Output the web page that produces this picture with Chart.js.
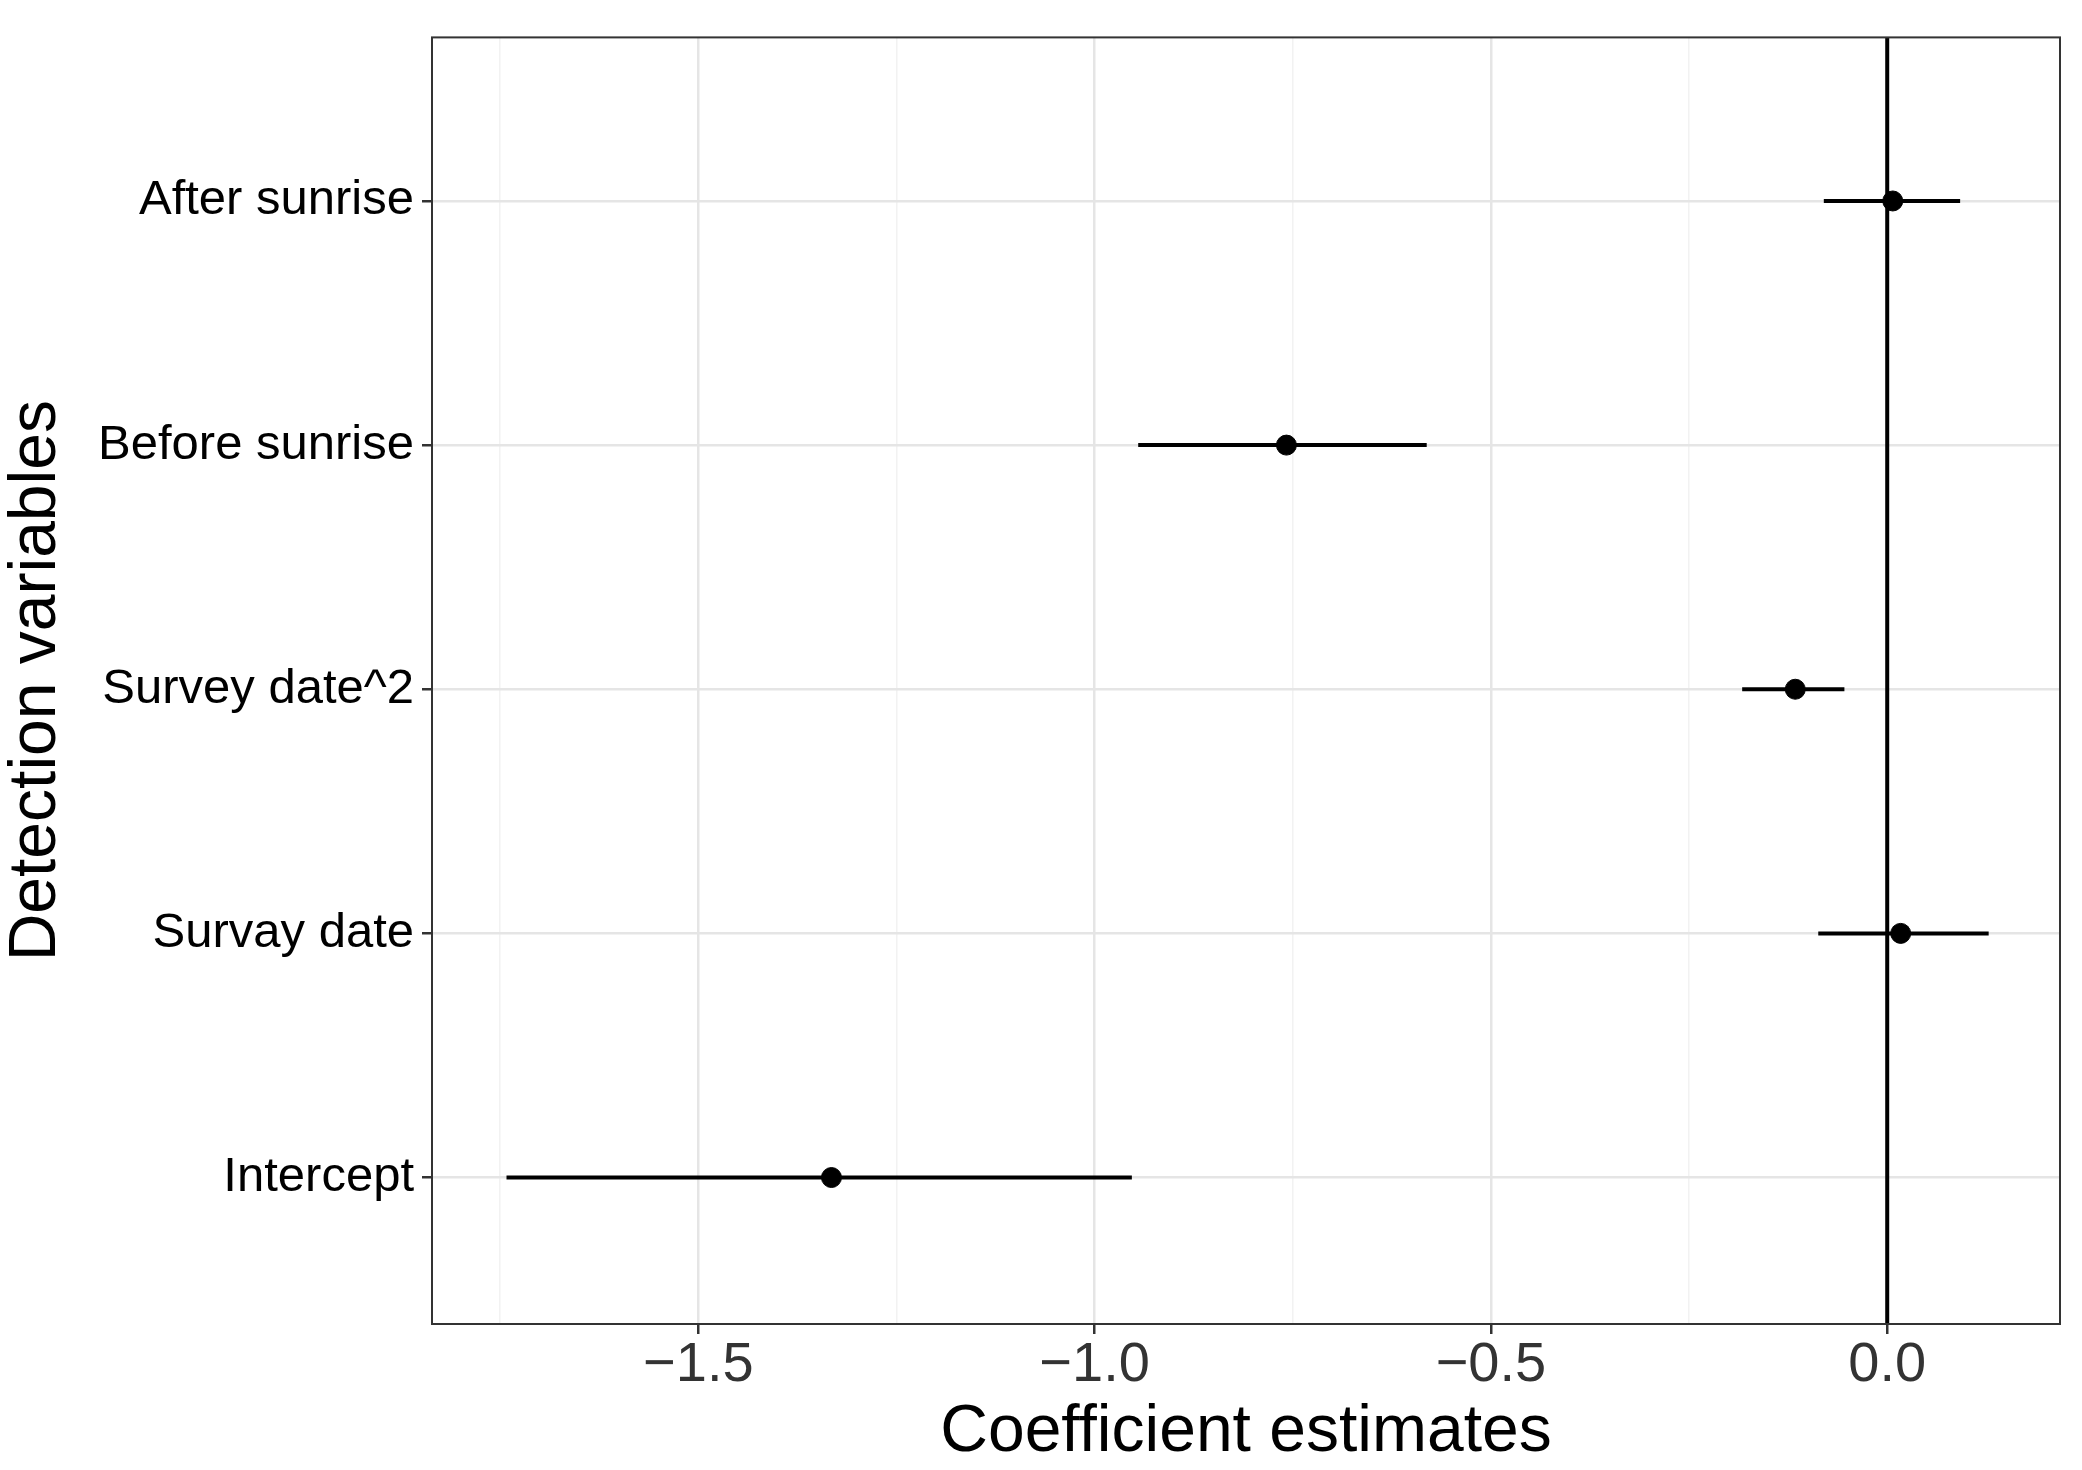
<!DOCTYPE html>
<html>
<head>
<meta charset="utf-8">
<script src="https://cdn.jsdelivr.net/npm/chart.js@4"></script>
<style>
html,body{margin:0;padding:0;background:#fff}
#wrap{width:2082px;height:1470px}
</style>
</head>
<body>
<div id="wrap"><canvas id="c"></canvas></div>
<script>
// rows from bottom (1) to top (5)
const variables = ["Intercept", "Survay date", "Survey date^2", "Before sunrise", "After sunrise"]
const estimates = [-1.332, 0.017, -0.116, -0.758, 0.007]
const lower = [-1.742, -0.087, -0.183, -0.945, -0.080]
const upper = [-0.953, 0.128, -0.054, -0.581, 0.092]
const xTicks = [-1.75, -1.5, -1.25, -1.0, -0.75, -0.5, -0.25, 0.0]
const xLabels = {"-1.5": "\u22121.5", "-1": "\u22121.0", "-0.5": "\u22120.5", "0": "0.0"}

const yMin = 0.4, yMax = 5.67
const isMajor = v => xLabels[String(v)] !== undefined

const datasets = []
variables.forEach((v, i) => {
    datasets.push({
        type: "line",
        data: [{x: lower[i], y: i + 1}, {x: upper[i], y: i + 1}],
        borderColor: "#000", borderWidth: 4, pointRadius: 0, order: 2
    })
})
datasets.push({
    type: "line",
    data: [{x: 0, y: yMin}, {x: 0, y: yMax}],
    borderColor: "#000", borderWidth: 4, pointRadius: 0, order: 3
})
datasets.push({
    type: "scatter",
    data: estimates.map((e, i) => ({x: e, y: i + 1})),
    backgroundColor: "#000", borderColor: "#000", pointRadius: 10, order: 1
})

const border = {
    id: "border",
    afterDraw(chart) {
        const a = chart.chartArea, ctx = chart.ctx
        ctx.save()
        ctx.strokeStyle = "#333"
        ctx.lineWidth = 2
        ctx.strokeRect(a.left, a.top, a.right - a.left, a.bottom - a.top)
        ctx.restore()
    }
}

Chart.defaults.font.family = "'Liberation Sans', Arial, sans-serif"

new Chart(document.getElementById("c"), {
    data: {datasets},
    plugins: [border],
    options: {
        responsive: true,
        maintainAspectRatio: false,
        animation: false,
        layout: {padding: {top: -31, right: 22}},
        plugins: {legend: {display: false}, tooltip: {enabled: false}},
        scales: {
            x: {
                type: "linear", min: -1.836, max: 0.218,
                afterBuildTicks: s => { s.ticks = xTicks.map(v => ({value: v})) },
                afterFit: s => { s.height = 146 },
                ticks: {
                    color: "#333", font: {size: 56, lineHeight: 1}, padding: 4, maxRotation: 0,
                    callback: v => xLabels[String(v)] || ""
                },
                grid: {
                    color: c => isMajor(c.tick.value) ? "#e5e5e5" : "#f2f2f2",
                    lineWidth: c => isMajor(c.tick.value) ? 2.5 : 1.5,
                    tickColor: c => isMajor(c.tick.value) ? "#333" : "rgba(0,0,0,0)",
                    tickLength: 10, drawOnChartArea: true
                },
                border: {display: false},
                title: {display: true, text: "Coefficient estimates", color: "#000", font: {size: 66, lineHeight: 1}, padding: {top: 0, bottom: 4}}
            },
            y: {
                type: "linear", min: yMin, max: yMax,
                afterBuildTicks: s => { s.ticks = variables.map((_, i) => ({value: i + 1})) },
                afterFit: s => { s.width = 432 },
                ticks: {
                    color: "#000", font: {size: 49}, padding: 8,
                    callback: v => variables[v - 1]
                },
                grid: {color: "#e5e5e5", lineWidth: 2.5, tickColor: "#333", tickLength: 10},
                border: {display: false},
                title: {display: true, text: "Detection variables", color: "#000", font: {size: 66, lineHeight: 1}, padding: {top: 4, bottom: 0}}
            }
        }
    }
})
</script>
</body>
</html>
